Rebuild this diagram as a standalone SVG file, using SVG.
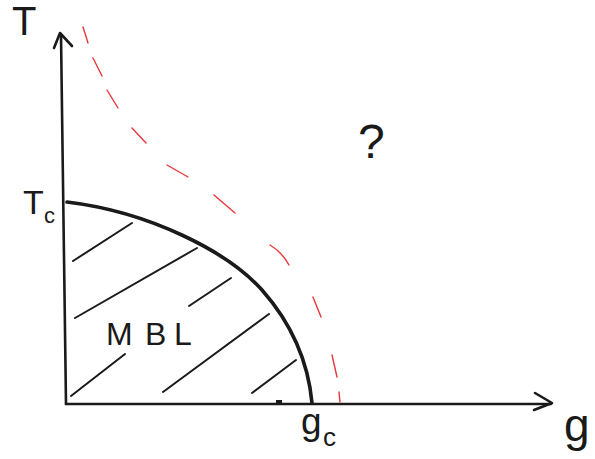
<svg xmlns="http://www.w3.org/2000/svg" width="595" height="459" viewBox="0 0 595 459">
<style>
.ink{fill:none;stroke:#1a1a1a;stroke-linecap:round;stroke-linejoin:round}
.axis{stroke-width:2.6}
.bound{stroke-width:3.6}
.hatch{stroke-width:2}
.red{fill:none;stroke:#e8363a;stroke-width:1.4;stroke-linecap:round}
.lbl{font-family:"Liberation Sans",Arial,sans-serif;fill:#1a1a1a}
</style>
<rect width="595" height="459" fill="#ffffff"/>
<g id="axes">
<path class="ink axis" d="M66,404 L61,35"/>
<path class="ink axis" d="M54,48 L60,33 L72,46"/>
<path class="ink axis" d="M66,404 L551,404"/>
<path class="ink axis" d="M535,393 L552,403 L534,410"/>
<rect x="276" y="400" width="6" height="5" fill="#1a1a1a"/>
</g>
<g id="mbl-region">
<path class="ink bound" d="M67,202 C150,212 228,252 262,290 C292,324 308,360 312,403"/>
<g class="ink hatch">
<path d="M73,261 L132,223"/>
<path d="M75,318 L197,248"/>
<path d="M189,306 L231,278"/>
<path d="M71,396 L125,354"/>
<path d="M163,392 L269,314"/>
<path d="M252,393 L296,360"/>
</g>
</g>
<g id="crossover">
<path class="red" d="M83,27 L88,43 M93,58 L102,76 M107,90 L118,108 M132,128 L146,143 M167,165 L188,177 M214,195 L235,213 M270,245 Q282,252 289,265 M313,297 L321,317 M332,355 L337,377 M339,392 L340,402"/>
</g>
<g id="labels">
<text class="lbl" x="12" y="35" font-size="40">T</text>
<text class="lbl" x="23" y="214" font-size="34">T</text>
<text class="lbl" x="44" y="223" font-size="22">c</text>
<text class="lbl" x="106 145 174" y="345" font-size="32">MBL</text>
<text class="lbl" x="358" y="158" font-size="48">?</text>
<text class="lbl" x="301" y="434" font-size="37">g</text>
<text class="lbl" x="323" y="446" font-size="26">c</text>
<text class="lbl" x="564" y="441" font-size="46">g</text>
</g>
</svg>
